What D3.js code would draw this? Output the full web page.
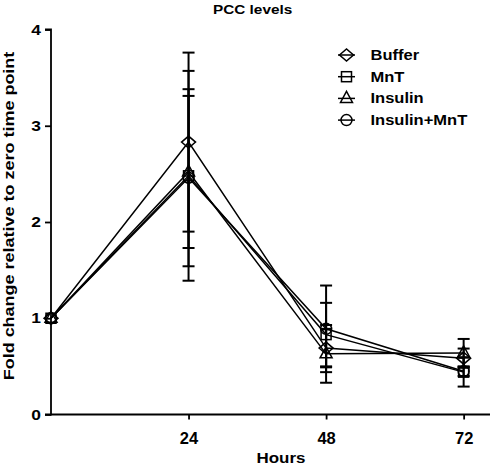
<!DOCTYPE html>
<html><head><meta charset="utf-8">
<script src="https://cdn.jsdelivr.net/npm/d3@7"></script>
<style>body{margin:0;background:#fff}svg{display:block}text{font-family:"Liberation Sans",Arial,sans-serif;font-weight:bold;fill:#000}</style>
</head><body>
<script>
const hours = [0, 24, 48, 72];
const seriesNames = ["Buffer", "MnT", "Insulin", "Insulin+MnT"];
const buffer = [1, 2.83, 0.69, 0.585];
const bufferErr = [0, 0.93, 0.2, 0.1];
const mnt = [1, 2.48, 0.83, 0.44];
const mntErr = [0, 1.09, 0.33, 0.15];
const insulin = [1, 2.52, 0.63, 0.64];
const insulinErr = [0, 0.79, 0.30, 0.145];
const insulinMnt = [1, 2.46, 0.89, 0.45];
const insulinMntErr = [0, 0.92, 0.45, 0.05];
const yTicks = [0, 1, 2, 3, 4];
const xTicks = [24, 48, 72];

const W = 492, H = 466;
const svg = d3.select("body").append("svg").attr("width", W).attr("height", H);
const x = d3.scaleLinear().domain([0, 76.6]).range([51, 490]);
const y = d3.scaleLinear().domain([0, 4]).range([414.5, 29.5]);

const series = [
  {name: seriesNames[0], v: buffer, e: bufferErr, sym: "diamond"},
  {name: seriesNames[1], v: mnt, e: mntErr, sym: "square"},
  {name: seriesNames[2], v: insulin, e: insulinErr, sym: "triangle"},
  {name: seriesNames[3], v: insulinMnt, e: insulinMntErr, sym: "circle"}
];

function drawSym(g, sym, cx, cy) {
  if (sym === "diamond") g.append("path").attr("d", `M${cx-7},${cy}L${cx},${cy-6}L${cx+7},${cy}L${cx},${cy+6}Z`);
  else if (sym === "square") g.append("rect").attr("x", cx-5).attr("y", cy-5).attr("width", 10).attr("height", 10);
  else if (sym === "triangle") g.append("path").attr("d", `M${cx},${cy-7}L${cx+6},${cy+4}L${cx-6},${cy+4}Z`);
  else g.append("circle").attr("cx", cx).attr("cy", cy).attr("r", 5.5);
}

// axes
const yAxis = d3.axisLeft(y).tickValues(yTicks).tickSize(6).tickPadding(4).tickFormat(d3.format("d"));
const gy = svg.append("g").attr("transform", `translate(${x(0)},0)`).call(yAxis);
gy.select(".domain").attr("stroke-width", 1.8).attr("d", `M-6,${y(4)}H0V${y(0)}H-6`);
gy.selectAll(".tick line").attr("stroke-width", 1.8);
gy.selectAll(".tick text").style("font-size", "14.5px").style("font-family", "Liberation Sans, Arial, sans-serif").style("font-weight", "bold")
  .each(function() { const t = d3.select(this); const tx = +t.attr("x"); t.attr("x", 0).attr("transform", `translate(${tx},0) scale(1.2,1)`); });

const xAxis = d3.axisBottom(x).tickValues(xTicks).tickSize(5).tickPadding(13);
const gx = svg.append("g").attr("transform", `translate(0,${y(0)})`).call(xAxis);
gx.select(".domain").attr("stroke-width", 1.8).attr("d", `M${x(0)},0H490`);
gx.selectAll(".tick line").attr("stroke-width", 1.8);
gx.selectAll(".tick text").style("font-size", "16.5px").style("font-family", "Liberation Sans, Arial, sans-serif").style("font-weight", "bold");

// error bars
const eg = svg.append("g").attr("stroke", "#000").attr("stroke-width", 2);
series.forEach(s => {
  hours.forEach((h, i) => {
    if (!s.e[i]) return;
    const hi = y(s.v[i] + s.e[i]), lo = y(s.v[i] - s.e[i]);
    eg.append("line").attr("x1", x(h)).attr("x2", x(h)).attr("y1", hi).attr("y2", lo);
    eg.append("line").attr("x1", x(h)-6).attr("x2", x(h)+6).attr("y1", hi).attr("y2", hi);
    eg.append("line").attr("x1", x(h)-6).attr("x2", x(h)+6).attr("y1", lo).attr("y2", lo);
  });
});

// lines
const line = d3.line().x((d, i) => x(hours[i])).y(d => y(d));
series.forEach(s => {
  svg.append("path").datum(s.v).attr("d", line).attr("fill", "none").attr("stroke", "#000").attr("stroke-width", 1.5);
});

// markers
series.forEach(s => {
  const g = svg.append("g").attr("fill", "none").attr("stroke", "#000").attr("stroke-width", 1.5);
  hours.forEach((h, i) => drawSym(g, s.sym, x(h), y(s.v[i])));
});

// legend
series.forEach((s, i) => {
  const cy = 55 + i * 21.7;
  const g = svg.append("g").attr("fill", "none").attr("stroke", "#000").attr("stroke-width", 1.5);
  g.append("line").attr("x1", 338).attr("x2", 355).attr("y1", cy).attr("y2", cy);
  drawSym(g, s.sym, 346.5, cy);
  svg.append("text").attr("transform", `translate(370.5,${cy + 5}) scale(1.18,1)`).style("font-size", "14px").text(s.name);
});

svg.append("text").attr("transform", "translate(213,14) scale(1.18,1)").style("font-size", "13px").text("PCC levels");
svg.append("text").attr("transform", "translate(281,463) scale(1.13,1)").attr("text-anchor", "middle").style("font-size", "15px").text("Hours");
svg.append("text").attr("transform", "translate(14,216) rotate(-90) scale(1.2,1)").attr("text-anchor", "middle").style("font-size", "15px").text("Fold change relative to zero time point");
</script>
</body></html>
